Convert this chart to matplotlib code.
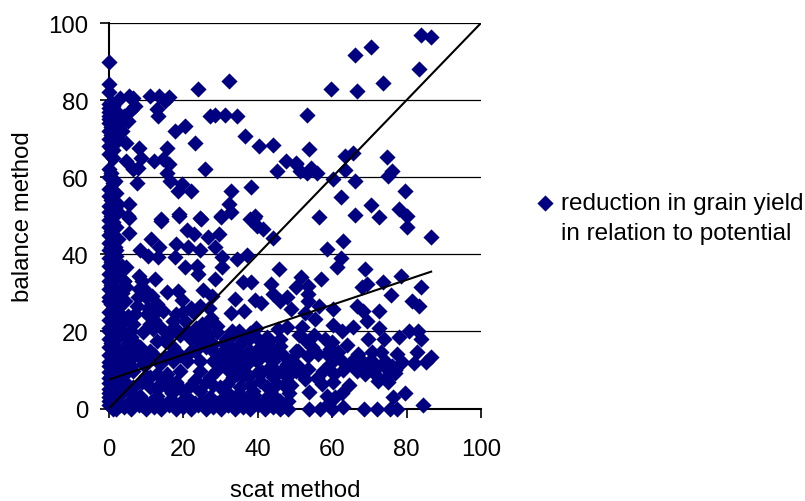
import numpy as np
import matplotlib
matplotlib.use("Agg")
import matplotlib.pyplot as plt
from matplotlib.lines import Line2D

# ----------------------------
# Data
# ----------------------------

# column of points at / near zero on the scat axis
left_x = [0, 0, 0, 0, 0, 0.5, 1, 0, 1.5, 0.5, 2, 0, 1, 2.5, 0.5, 1.5, 0, 2, 1, 3, 0, 1.5, 0.5, 2.5, 0, 1,
          0, 0, 0.5, 1, 0, 1.5, 0, 0.5, 2, 0, 1, 0, 0.5, 1.5, 0, 1, 0, 0.5, 2, 0, 1, 0, 1.5, 0.5,
          0, 1, 0, 2, 0.5, 0, 1.5, 0, 1, 0, 2, 0.5, 0, 1, 0, 1.5, 0, 0.5, 2, 0, 1, 0, 1.5, 0,
          0, 1, 0, 2, 0.5, 0, 1.5, 0, 1, 0,
          2.5, 1.5, 2, 1, 2.5, 1.5, 2, 1.5, 2.5, 1, 2, 1.5, 2.5, 2, 1, 2.5, 1.5, 2, 2.5, 1.5,
          3.5, 4, 3, 4.5, 3.5, 3, 4, 5, 3.5, 4.5, 3, 5.5, 4, 5, 3, 6]
left_y = [79, 78, 77, 76, 75, 79.5, 78.5, 74, 77.5, 73, 76, 72, 74.5, 75, 71, 73, 70, 72, 70.5, 73.5, 68, 69, 67.5, 70, 66, 67,
          62, 60, 61, 58.5, 57, 59, 55, 54, 56, 52.5, 52, 51, 50, 52, 49, 48.5, 47, 46, 47, 45, 44, 43, 43.5, 42,
          41, 40, 39, 39.5, 38, 37, 36.5, 35, 34, 33, 34, 32, 31, 30, 29, 29.5, 28, 27, 26, 25, 24, 23, 22, 21,
          20, 19, 18, 18.5, 17, 16, 15.5, 14, 13, 12,
          44, 42, 41, 37.5, 37, 35, 31, 27, 24, 21.5, 22, 19.5, 18.5, 16, 12.5, 12, 10, 8, 6, 4,
          37, 33, 29, 31.5, 24, 21, 19, 17, 13, 11, 9.5, 10, 7, 5, 3.5, 2]
low_left_x = [0, 1, 0, 2, 0.5, 0, 1.5, 0, 1, 0, 2, 0.5, 0, 1, 0, 1.5, 0, 1, 0, 3, 2, 1]
low_left_y = [11, 10, 9.5, 9, 8.5, 8, 7, 6.5, 6, 5, 5.5, 4.5, 4, 3.5, 3, 3, 2, 1.5, 1, 1, 1, 0]

# upper left quarter
upper_left_x = [0, 0, 0, 24, 32.2, 11, 13.5, 16.1, 15, 5.4, 6.5, 3, 12.8, 13.3, 27.2, 28.5, 31.2, 34.3, 20.4,
                17.8, 23.1, 36.6, 40.3, 44.1, 47.6, 50.4, 45.1, 25.8, 8.1, 8.5, 15.5, 4.7, 6.5, 7.9, 12.1,
                14.6, 16, 15.5, 16.4, 7.4, 19.5, 18.6, 22, 32.8, 38.2, 32.3, 32.8, 18.8, 13.9, 24.5, 30,
                37.9, 39.2, 5.4, 2.5, 5.2, 6, 4, 7, 5, 3.5, 4.5, 1, 2.5]
upper_left_y = [89.8, 84.2, 82, 82.8, 85, 81, 81, 80.7, 79.8, 81, 80.5, 80.5, 77.7, 75.8, 75.8, 76.1, 76.1, 75.8,
                73.2, 72, 69, 70.6, 68, 68.4, 64.3, 63.8, 61.7, 62.1, 67.5, 65.1, 67.5, 64.3, 62.1, 62.4, 64.1,
                64.7, 63.4, 61.2, 59, 58.6, 58.2, 56.5, 56.5, 56.5, 57.5, 53, 51.1, 50.4, 49.1, 49.4, 50,
                49.1, 50, 53, 53, 50, 77.5, 76, 78.5, 74.5, 72, 69, 65, 51]

# upper right quarter
upper_right_x = [83.8, 86.6, 70.4, 66.1, 83.3, 73.6, 59.7, 66.7, 53.2, 53.8, 50.4, 51.3, 53.2, 54.2, 55.8, 63.4,
                 65.5, 63.4, 60.1, 66.1, 74.6, 76.2, 75.1, 79.6, 62.3, 70.4, 78, 56.5, 66.1, 72.6, 80.1]
upper_right_y = [96.9, 96.3, 93.8, 91.8, 88, 84.5, 82.8, 82.4, 76.1, 67.3, 63.4, 61.7, 61.2, 62.3, 61.2, 65.6,
                 66.4, 61.9, 59.5, 59, 65.3, 61.7, 60.4, 56.5, 54.9, 52.8, 51.7, 49.8, 50.2, 49.8, 50]

# lower right quarter
lower_right_x = [80.1, 86.6, 62.8, 58.5, 62.3, 61.2, 68.8, 57, 51.5, 53.6, 50.4, 53.4, 53.6, 78.5, 73.6, 69.3,
                 67.9, 83.9, 75.8, 81.5, 83.3, 56.5, 60.1, 66.6, 68.4, 72.6, 52.7, 55.4, 69.3, 60.3, 62.5, 65.5,
                 72.6, 51.8, 80.6, 83, 83.9, 78, 73.9, 69.5, 58.1, 59.9, 52.7, 63.9, 54.5, 82.7, 86.6, 85.1,
                 82.1, 77.3, 78.7, 73.1, 70.8, 67, 61.6, 67.9, 62.5, 60.3, 58.5, 56.3, 53.6, 50.9, 74.2, 76,
                 76.9, 72, 66.6, 68.8, 59.4, 57.6, 53.6, 50.9, 52.7, 72.4, 74.9, 60.3, 57.2, 79.6, 76.4, 62.5,
                 60.8, 58.5, 53.8, 84.3, 77.3, 75.5, 72, 68.6, 62.8, 59.9, 56.7, 53.8, 59,
                 51, 55, 59.5, 63, 52, 56, 60.5, 64.5, 70, 71.5, 74, 75, 68, 65, 66, 69, 77, 75.5, 70.5]
lower_right_y = [47, 44.6, 43.5, 41.5, 39, 36.6, 36.2, 33.6, 34.2, 31.9, 31.4, 29.7, 28, 34.3, 32.7, 32.3,
                 31.4, 31.6, 29.5, 28, 26.7, 26.7, 25.7, 26.7, 25.4, 25.4, 24.7, 23.2, 22.6, 21.7, 20, 21.2,
                 20.8, 21.1, 20.2, 20.2, 18, 18.6, 18, 18, 18, 17.2, 17.8, 16.6, 15.9, 14.6, 13.4, 12,
                 11.8, 14.1, 12, 14.6, 14.6, 14.1, 14.6, 12.4, 12.4, 13.3, 14.1, 14.1, 13.7, 15, 12.4, 11.1,
                 9.1, 10.7, 9.8, 8.9, 11.5, 9.8, 10.2, 11.1, 7.6, 7.2, 6.8, 6.8, 6.4, 4, 3.1, 4,
                 3, 3.3, 4.2, 1, 0, 0, 0, 0, 0.5, 0, 0, 0, 1.2,
                 19, 19, 15.5, 10, 9, 8, 9, 6, 11.5, 9, 11, 8.5, 11, 11.5, 13, 10, 10, 9, 12.5]

# lower left quarter, above the second grid line
middle_x = [5.4, 14, 18.8, 24.6, 30, 39.1, 41.5, 39.7, 44, 5.4, 21.1, 22.8, 26.7, 29.7, 28.5, 11.3, 13.4, 18, 21.3,
            24.5, 8.3, 10.6, 13.3, 17.7, 20.4, 23.6, 24, 30.3, 30.3, 34.3, 37, 45.7, 4.7, 8.1, 12.4, 28.5, 36.1,
            38.3, 43.5, 44.2, 47.8, 46, 48.8, 15.5, 18.6, 19.5, 25.4, 27.6, 33.9, 39.2, 40.8, 36.3, 32.7, 22.7,
            7.9, 7.4, 4.3, 11.5, 10.1, 14.6, 11.9, 9.2, 6.5, 4.3, 5.8, 15, 17.3, 20.4, 26.3, 28.9, 33.4, 36.1,
            42.4, 45.5, 47.8, 9.5, 13, 12, 16.5, 9, 10, 8, 7, 10.5, 12.5, 11, 14, 16, 13, 18, 18, 19, 21, 22, 23.5,
            25, 26, 27.5, 24, 29, 31.5, 33, 35, 38, 40, 43, 3, 4, 3.5, 2.5, 5, 6, 7.5,
            22, 20, 24.5, 27, 31, 35, 37.5, 39.5, 43, 46, 33, 30, 28, 26, 23]
middle_y = [49.4, 48.7, 50, 49.2, 49.6, 49.4, 46.6, 47.4, 44.1, 45.5, 46.4, 45.3, 44.6, 45.3, 41.8, 44, 41.8, 42.7, 41.8,
            41.1, 41, 39.6, 39.2, 39.2, 36.6, 37, 34.9, 39.2, 36.6, 38.8, 39.8, 36.2, 36.8, 34.5, 33.6, 33.6, 32.7,
            32.7, 32.3, 29.7, 28.8, 27.8, 25.8, 30.1, 30.6, 28.1, 30.7, 29.3, 28.4, 28.1, 27.3, 25.4, 24.8, 25.1,
            28.8, 26.7, 27.8, 29.3, 24.5, 25.4, 20.6, 19.8, 21.9, 22.8, 18.5, 17.6, 22.8, 22.8, 21.9, 19.8, 19.1, 17.6,
            18.5, 20.6, 21.1, 31, 27, 23, 20, 33, 29, 31, 24.5, 26, 25, 22, 21, 19, 17.5, 24.5, 20.5, 19, 20, 18, 21,
            22, 20, 23.5, 19, 21.5, 18, 20, 20, 19.5, 18, 17.5, 36, 33, 30, 26, 24, 20, 16.5,
            26, 25, 26.5, 26, 17, 16.5, 18, 21, 16, 18, 14, 14, 15, 16, 15]

# dense band near the bottom
lower_x = [8.3, 11, 17.3, 24.5, 26.3, 28, 30.7, 35.2, 37.9, 40.6, 43.3, 46, 50.4, 39.7, 44.2, 47.8, 50.4, 37, 33.4,
           28, 24.5, 20.9, 17.3, 13.7, 9.2, 6.5, 6.5, 11, 15.5, 19.1, 24.5, 27.1, 33.4, 31.6, 38.8, 42.4, 45.1,
           47.8, 44.2, 40.6, 35.2, 29.9, 24.5, 20, 15.5, 11, 6.5, 3.9, 3, 8.3, 12.8, 16.8, 20.9, 27.1, 33.4, 37,
           42.4, 46.9, 12, 15, 22, 18, 5, 9, 4, 31, 36, 41, 48.5,
           3, 5, 7, 9, 10.5, 13, 15, 17, 19, 22, 26, 29, 31, 34, 36, 39, 43, 45, 47, 4, 6, 8, 10, 14, 16, 18, 23,
           25, 28, 32, 35, 39, 41, 43, 4, 7, 10, 13, 17, 23, 26, 30, 38, 44, 49,
           14, 19, 22.5, 26, 29, 32, 35, 38, 40, 42, 44, 46, 48, 5, 7, 9, 11,
           31.5, 33, 35.5, 37, 39, 41, 42.5, 45, 47, 49, 32, 34.5, 37.5, 40, 43.5, 46.5, 48.5]
lower_y = [15.9, 15, 15.9, 17.2, 18.5, 16.7, 15, 14.1, 15, 15.9, 15, 16.3, 15, 12.4, 12.4, 11.5, 9.8, 11.5, 11.5,
           12.4, 12.4, 12.4, 12.4, 11.5, 11.5, 13.3, 9.8, 8.1, 9, 9.8, 9.8, 8.1, 8.1, 6.4, 4.6, 5.5, 6.4,
           8.1, 8.1, 7.2, 5.5, 5.5, 4.6, 4.6, 5.5, 5.5, 5.5, 7.2, 3.8, 3.3, 3.3, 2.4, 2.9, 2.9, 2.4, 2.4,
           2.4, 0.7, 14, 18, 15, 7, 16, 7, 13, 3, 8.5, 1.5, 4,
           15, 13, 16, 14, 12, 9, 13, 14.5, 14, 6, 7, 10, 12, 11.5, 10, 13, 10, 9, 6, 9, 11, 13.5, 8.5, 6.5, 7.5, 6.5, 7.5,
           2, 6, 4, 4, 3.5, 9.5, 3.5, 6, 3, 1.5, 5, 4, 1.5, 2, 1.5, 6, 3.5, 6,
           1.5, 1.5, 1.5, 1, 1.5, 1, 1.5, 1, 1.5, 1, 1.5, 2, 2, 1.5, 1.5, 1, 1.5,
           13.5, 15.5, 12.5, 14.5, 13, 15, 13.5, 14, 13.5, 12.5, 10, 9, 8.5, 9.5, 11, 10, 11.5]

# points lying on the scat axis
floor_x = [2, 4, 6, 8, 10, 12, 14, 16, 18, 20, 22, 24, 26, 28, 30, 32, 34, 36, 38, 40, 42, 44, 46, 48]
floor_y = [0, 0.5, 0, 1, 0, 0.5, 0, 1, 0, 0.5, 0, 1, 0, 0.5, 0, 1, 0, 0.5, 0, 1, 0, 0.5, 0, 0]

# end points of the two drawn lines
diagonal_x = [0, 100]
diagonal_y = [0, 100]
fit_x = [0, 86.6]
fit_y = [7.5, 35.5]

xticks = [0, 20, 40, 60, 80, 100]
yticks = [0, 20, 40, 60, 80, 100]

# ----------------------------
# Plot
# ----------------------------

plt.rcParams["font.family"] = ["Liberation Sans", "DejaVu Sans"]

x = left_x + low_left_x + upper_left_x + upper_right_x + lower_right_x + middle_x + lower_x + floor_x
y = left_y + low_left_y + upper_left_y + upper_right_y + lower_right_y + middle_y + lower_y + floor_y

W, H = 805, 502
fig = plt.figure(figsize=(W / 100, H / 100), dpi=100)
ax = fig.add_axes([109 / W, 1 - 409.5 / H, (481 - 109) / W, (409.5 - 24) / H])

points = ax.scatter(x, y, marker="D", s=68, color="#000080", linewidths=0, clip_on=False, zorder=3)
ax.plot(diagonal_x, diagonal_y, color="black", lw=1.5, zorder=4)
ax.plot(fit_x, fit_y, color="black", lw=1.5, zorder=4)

ax.set_xlim(0, 100)
ax.set_ylim(0, 100)
ax.set_xticks(xticks)
ax.set_yticks(yticks)
ax.tick_params(labelsize=17.3, length=6.5, width=1.2, direction="out")
ax.tick_params(axis="x", pad=15)
ax.tick_params(axis="y", pad=8.5)
ax.grid(axis="y", color="black", lw=0.9, zorder=1)
ax.set_axisbelow(True)

ax.spines["top"].set_visible(False)
ax.spines["right"].set_visible(False)
ax.spines["left"].set_linewidth(1.5)
ax.spines["bottom"].set_linewidth(1.5)

fig.text(295 / W, 1 - 497 / H, "scat method", fontsize=17.3, ha="center", va="baseline")
fig.text(23 / W, 1 - 217 / H, "balance method", fontsize=17.3, rotation=90, ha="center", va="center")

blank = Line2D([], [], linestyle="none")
ax.legend([points, blank],
          ["reduction in grain yield", "in relation to potential"],
          loc="center left", bbox_to_anchor=(532 / W, 1 - 219 / H), bbox_transform=fig.transFigure,
          frameon=False, fontsize=17.5, labelspacing=0.3, handletextpad=0.11, handlelength=1.1,
          borderpad=0, borderaxespad=0)

plt.savefig("out.png", dpi=100)
